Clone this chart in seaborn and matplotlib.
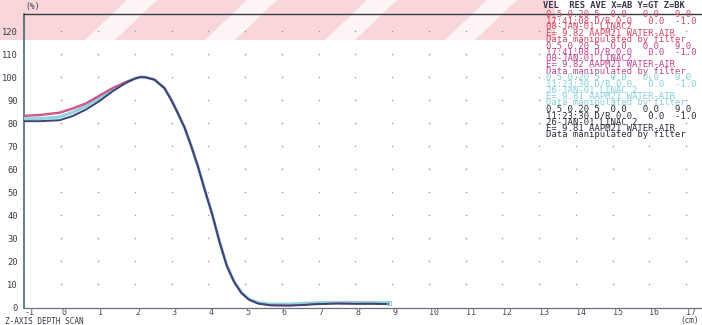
import numpy as np
import pandas as pd
import matplotlib
matplotlib.use("Agg")
import matplotlib.pyplot as plt
from matplotlib.patches import Rectangle, Polygon
import seaborn as sns

# ---------------- data ----------------
depth_cm = [-1.1, -0.6, -0.06, 0.3, 0.67, 1.03, 1.39, 1.76, 2.0, 2.15, 2.3, 2.53, 2.8,
            2.98, 3.16, 3.35, 3.53, 3.71, 3.9, 4.1, 4.3, 4.5, 4.7, 4.9, 5.1, 5.35, 5.7,
            6.2, 6.6, 7.0, 7.5, 8.0, 8.5, 8.9]
dose_red = [83.5, 83.9, 84.9, 86.7, 89.0, 92.3, 95.6, 98.2, 99.6, 100.2, 100.1, 99.2, 95.6,
            90.7, 84.9, 78.4, 70.4, 61.7, 51.3, 40.8, 28.8, 18.2, 11.2, 6.4, 3.5, 1.8, 1.0,
            0.9, 1.2, 1.6, 1.8, 1.7, 1.7, 1.6]
dose_magenta = [83.0, 83.4, 84.4, 86.2, 88.5, 91.8, 95.2, 98.0, 99.5, 100.2, 100.0, 99.1, 95.5,
                90.6, 84.8, 78.3, 70.3, 61.6, 51.2, 40.7, 28.7, 18.1, 11.1, 6.3, 3.5, 1.8, 1.0,
                0.9, 1.2, 1.6, 1.8, 1.7, 1.7, 1.6]
dose_cyan = [82.0, 82.1, 82.8, 84.8, 87.6, 91.0, 94.8, 98.0, 99.6, 100.2, 100.1, 99.1, 95.5,
             90.6, 84.8, 78.3, 70.3, 61.6, 51.2, 40.7, 28.7, 18.2, 11.2, 6.5, 3.7, 2.1, 1.5,
             1.5, 1.8, 2.1, 2.2, 2.2, 2.1, 2.1]
dose_dark = [81.0, 81.0, 81.4, 83.2, 86.1, 89.7, 94.0, 97.7, 99.5, 100.2, 100.0, 99.0, 95.3,
             90.4, 84.6, 78.1, 70.1, 61.4, 51.0, 40.5, 28.5, 18.0, 11.0, 6.2, 3.4, 1.7, 0.9,
             0.8, 1.1, 1.5, 1.7, 1.6, 1.6, 1.5]
series_names = ["scan1", "scan2", "scan3", "scan4"]
x_ticks = list(range(-1, 18))
y_ticks = list(range(0, 130, 10))

legend_header = "VEL  RES AVE X=AB Y=GT Z=BK"
legend_blocks = [
    ["0.5 0.20 5  0.0   0.0   9.0",
     "17:41:08 D/R 0.0   0.0  -1.0",
     "08-JAN-01 LINAC2",
     "E= 9.82 AAPM21 WATER-AIR",
     "Data manipulated by filter"],
    ["0.5 0.20 5  0.0   0.0   9.0",
     "17:41:08 D/R 0.0   0.0  -1.0",
     "08-JAN-01 LINAC2",
     "E= 9.82 AAPM21 WATER-AIR",
     "Data manipulated by filter"],
    ["0.5 0.20 5  0.0   0.0   9.0",
     "11:23:30 D/R 0.0   0.0  -1.0",
     "26-JAN-01 LINAC 2",
     "E= 9.81 AAPM21 WATER-AIR",
     "Data manipulated by filter"],
    ["0.5 0.20 5  0.0   0.0   9.0",
     "11:23:30 D/R 0.0   0.0  -1.0",
     "26-JAN-01 LINAC 2",
     "E= 9.81 AAPM21 WATER-AIR",
     "Data manipulated by filter"],
]

colors = {"scan1": "#d9506a", "scan2": "#c8509a", "scan3": "#8fd3de", "scan4": "#3c4478"}
widths = {"scan1": 1.0, "scan2": 0.9, "scan3": 2.2, "scan4": 1.4}
block_colors = ["#d24a64", "#c2468e", "#86d0de", "#2e3040"]

df = pd.concat([
    pd.DataFrame({"depth": depth_cm, "dose": v, "scan": n})
    for n, v in zip(series_names, [dose_red, dose_magenta, dose_cyan, dose_dark])
])

# ---------------- figure ----------------
sns.set_style("white")
mono = "DejaVu Sans Mono"
plt.rcParams["font.family"] = [mono, "DejaVu Sans"]

W, H = 702, 325
fig = plt.figure(figsize=(W / 100, H / 100), dpi=100)
fig.patch.set_facecolor("white")

# scanned pink band with diagonal light stripes
fig.patches.append(Rectangle((0, 1 - 40 / H), 555 / W, 40 / H, transform=fig.transFigure,
                             facecolor="#f8d6da", edgecolor="none", zorder=-10))
for sx in [85, 205, 325, 445]:
    pts = [(sx / W, 1 - 40 / H), ((sx + 30) / W, 1 - 40 / H),
           ((sx + 72) / W, 1.0), ((sx + 42) / W, 1.0)]
    fig.patches.append(Polygon(pts, closed=True, transform=fig.transFigure,
                               facecolor="white", edgecolor="none", alpha=0.75, zorder=-9))

ax = fig.add_axes([24 / W, (H - 307.5) / H, (W - 24) / W, (307.5 - 14) / H])
ax.set_facecolor("none")

# grid dots at tick intersections
gx, gy = np.meshgrid([t for t in x_ticks if t >= 0], [t for t in y_ticks if t > 0])
ax.scatter(gx.ravel(), gy.ravel(), s=1.2, color="#9a9aa0", linewidths=0, zorder=1)

for name in ["scan3", "scan1", "scan2", "scan4"]:
    sns.lineplot(data=df[df.scan == name], x="depth", y="dose", color=colors[name],
                 lw=widths[name], ax=ax, legend=False, zorder=3, sort=False)
ax.plot([depth_cm[-1]], [dose_cyan[-1]], marker="s", ms=3, mfc="none",
        mec=colors["scan3"], mew=0.8, zorder=4)

ax.set_xlim(-1.02, 17.43)
ax.set_ylim(0, 127.6)
ax.set_xticks(x_ticks)
ax.set_yticks(y_ticks)
ax.set_xticklabels([str(t) for t in x_ticks])
ax.set_yticklabels([str(t) for t in y_ticks])
ax.set_xlabel("")
ax.set_ylabel("")
ax.tick_params(axis="x", direction="inout", length=4, width=0.6, colors="#6a6a78",
               labelsize=6, labelcolor="#4a4a5a", pad=-1.5)
ax.tick_params(axis="y", direction="out", length=4, width=0.6, colors="#4a4a5a",
               labelsize=6.3, labelcolor="#3a3a4a", pad=0.5)
for lab in ax.get_xticklabels():
    lab.set_horizontalalignment("left")
ax.spines["right"].set_visible(False)
ax.spines["left"].set_color("#2f5f68")
ax.spines["left"].set_linewidth(1.1)
ax.spines["top"].set_color("#3a3a44")
ax.spines["top"].set_linewidth(1.0)
ax.spines["bottom"].set_color("#6a7080")
ax.spines["bottom"].set_linewidth(0.9)

# axis annotations
fig.text(25 / W, 1 - 7 / H, "(%)", fontsize=5.8, color="#3a3a4a", va="center", ha="left")
fig.text(5 / W, 1 - 321 / H, "Z-AXIS DEPTH SCAN", fontsize=5.6, color="#3a3a4a",
         va="center", ha="left")
fig.text(680 / W, 1 - 321 / H, "(cm)", fontsize=5.6, color="#3a3a4a", va="center", ha="left")

# legend text block: one multi-line text per scan
fig.text(543 / W, 1 - 1 / H, legend_header, fontsize=6.3, color="#3a3450", va="top",
         ha="left", fontweight="bold")
lx = 546 / W
step = 6.35
for k, (block, col) in enumerate(zip(legend_blocks, block_colors)):
    top = 10.0 + k * 5 * step
    fig.text(lx, 1 - top / H, "\n".join(block), fontsize=6.5, color=col,
             va="top", ha="left", linespacing=0.6)

fig.savefig("out.png", dpi=100)
